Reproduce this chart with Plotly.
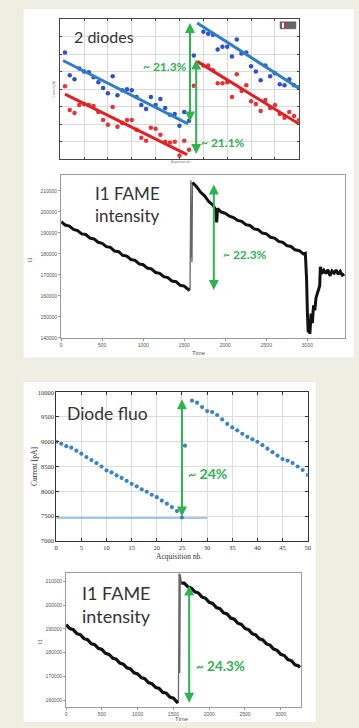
import plotly.graph_objects as go

W, H = 359, 728
def px(x): return x / W
def py(y): return 1 - y / H

GREEN = "#2db34f"
TXT = "#333333"

# ---------------- Panel 1 : 2 diodes ----------------
p1_x = list(range(1, 29)) + list(range(30, 51))
blue_y = [6.08, 4.79, 4.56, 5.18, 5.01, 4.96, 4.68, 4.39, 4.06, 3.77, 4.73, 3.66, 3.94, 4.00,
          3.94, 3.55, 3.10, 2.87, 3.55, 3.10, 3.44, 2.93, 2.54, 2.59, 1.92, 2.70, 2.20, 5.92,
          7.27, 7.15, 7.10, 6.25, 6.42, 6.42, 5.86, 6.82, 6.03, 6.08, 5.30, 5.01, 4.51, 5.35,
          4.73, 4.90, 4.28, 4.23, 4.56, 4.23, 4.11]
red_y = [4.17, 2.82, 2.65, 3.10, 3.15, 3.10, 3.04, 2.70, 2.25, 1.97, 2.99, 1.86, 2.08, 2.25,
         2.25, 1.69, 1.24, 1.07, 1.80, 1.75, 1.41, 1.01, 0.96, 1.01, 0.23, 1.07, 0.56, 4.19,
         5.35, 5.35, 5.07, 4.34, 4.34, 4.39, 3.55, 4.85, 3.89, 4.23, 3.32, 3.15, 2.76, 3.38,
         2.93, 3.10, 2.59, 2.37, 2.70, 2.48, 2.25]
blue_fit_x = [0.6, 26.8, None, 28.7, 50]
blue_fit_y = [5.63, 2.03, None, 7.77, 4.06]
red_fit_x = [1.0, 26.6, None, 28.7, 50]
red_fit_y = [3.72, 0.28, None, 5.58, 2.03]

# ---------------- Panel 2 : I1 FAME intensity ----------------
p2_t = [0, 50, 100, 150, 200, 250, 300, 350, 400, 450, 500, 550, 600, 650, 700, 750, 800, 850,
        900, 950, 1000, 1050, 1100, 1150, 1200, 1250, 1300, 1350, 1400, 1450, 1500, 1550, 1570,
        None, 1600, 1650, 1700, 1750, 1800, 1850, 1880, 1895, 1905, 1950, 2000,
        2050, 2100, 2150, 2200, 2250, 2300, 2350, 2400, 2450, 2500, 2550, 2600, 2650, 2700,
        2750, 2800, 2850, 2900, 2950, 2975, 2990, 3000, 3010, 3020, 3030, 3045, 3060, 3075,
        3090, 3105, 3120, 3135, 3150, 3158, 3175, 3200, 3225, 3250, 3275, 3300, 3325, 3350,
        3375, 3400, 3425, 3450]
p2_v = [195300, 193700, 193200, 191600, 191100, 189500, 189200, 187500, 187100, 185500, 185000,
        183400, 183100, 181300, 181000, 179300, 178900, 177300, 176900, 175200, 174800, 173200,
        172800, 171100, 170700, 169100, 168700, 167000, 166700, 165000, 164600, 162900, 163400,
        None, 214000, 212000, 209300, 207500, 204800, 203200, 201300, 195000,
        201500, 199900, 199300, 197900, 197300, 195900, 195500, 193900, 193500, 191900, 191500,
        189900, 189500, 187900, 187500, 185900, 185500, 183900, 183500, 181900, 181500, 180000,
        180300, 168000, 152000, 142500, 148000, 141800, 151500, 147000, 155500, 153000, 159000,
        161000, 163500, 164800, 173800, 170500, 172200, 170600, 172400, 169500, 171800, 170800,
        172300, 170200, 171600, 169800, 170400]
p2_jump_t = [1570, 1580, 1586, 1590, 1594, 1600]
p2_jump_v = [163400, 215000, 178000, 186000, 176000, 214000]
p2_xticks = [0, 500, 1000, 1500, 2000, 2500, 3000]
p2_yticks = [140000, 150000, 160000, 170000, 180000, 190000, 200000, 210000]

# ---------------- Panel 3 : Diode fluo ----------------
p3_x1 = list(range(0, 26))
p3_y1 = [9000, 8960, 8910, 8880, 8820, 8760, 8690, 8630, 8570, 8500, 8420, 8380, 8320, 8270,
         8210, 8150, 8100, 8040, 7990, 7930, 7880, 7810, 7750, 7680, 7600, 7470]
p3_xmid = [25.6]
p3_ymid = [8920]
p3_x2 = list(range(27, 51))
p3_y2 = [9830, 9790, 9700, 9620, 9600, 9540, 9450, 9360, 9290, 9230, 9160, 9100, 9050, 9000,
         8930, 8860, 8790, 8720, 8650, 8620, 8570, 8500, 8430, 8330]
p3_hline_x = [0, 30]
p3_hline_y = [7460, 7460]

# ---------------- Panel 4 : I1 FAME intensity ----------------
p4_t = [0, 50, 100, 150, 200, 250, 300, 350, 400, 450, 500, 550, 600, 650, 700, 750, 800, 850,
        900, 950, 1000, 1050, 1100, 1150, 1200, 1250, 1300, 1350, 1400, 1450, 1500, 1550, 1570,
        None, 1610, 1650, 1700, 1750, 1800, 1850, 1900, 1950, 2000, 2050, 2100,
        2150, 2200, 2250, 2300, 2350, 2400, 2450, 2500, 2550, 2600, 2650, 2700, 2750, 2800,
        2850, 2900, 2950, 3000, 3050, 3100, 3150, 3200, 3250, 3270]
p4_v = [191800, 190200, 189700, 188000, 187600, 185900, 185500, 183800, 183400, 181800, 181400,
        179700, 179300, 177700, 177300, 175600, 175200, 173600, 173200, 171500, 171100, 169500,
        169100, 167400, 167000, 165400, 165000, 163300, 163000, 161300, 160900, 159200, 159500,
        None, 209300, 209300, 207800, 207200, 205600, 205100, 203400, 202900,
        201200, 200700, 199000, 198500, 196800, 196300, 194600, 194100, 192400, 191900, 190200,
        189700, 188000, 187500, 185800, 185400, 183700, 183200, 181500, 181000, 179300, 178800,
        177100, 176600, 174900, 174400, 173800]
p4_jump_t = [1570, 1580, 1588, 1596, 1610]
p4_jump_v = [159500, 216500, 171500, 213000, 209300]
p4_xticks = [0, 500, 1000, 1500, 2000, 2500, 3000]
p4_yticks = [160000, 170000, 180000, 190000, 200000, 210000]

fig = go.Figure()

# Panel 1 traces
fig.add_trace(go.Scatter(x=p1_x, y=blue_y, mode="markers", xaxis="x", yaxis="y",
                         marker=dict(color="#2f4fd6", size=4.5)))
fig.add_trace(go.Scatter(x=p1_x, y=red_y, mode="markers", xaxis="x", yaxis="y",
                         marker=dict(color="#e8323a", size=4.5)))
fig.add_trace(go.Scatter(x=blue_fit_x, y=blue_fit_y, mode="lines", xaxis="x", yaxis="y",
                         line=dict(color="#2f7fc6", width=3)))
fig.add_trace(go.Scatter(x=red_fit_x, y=red_fit_y, mode="lines", xaxis="x", yaxis="y",
                         line=dict(color="#e32020", width=3)))

# Panel 2
fig.add_trace(go.Scatter(x=p2_jump_t, y=p2_jump_v, mode="lines", xaxis="x2", yaxis="y2",
                         line=dict(color="#666666", width=1.3)))
fig.add_trace(go.Scatter(x=p2_t, y=p2_v, mode="lines", xaxis="x2", yaxis="y2",
                         line=dict(color="#111111", width=3), connectgaps=False))

# Panel 3
fig.add_trace(go.Scatter(x=p3_hline_x, y=p3_hline_y, mode="lines", xaxis="x3", yaxis="y3",
                         line=dict(color="#4a8fc9", width=1)))
fig.add_trace(go.Scatter(x=p3_x1 + p3_xmid + p3_x2, y=p3_y1 + p3_ymid + p3_y2, mode="markers",
                         xaxis="x3", yaxis="y3", marker=dict(color="#3a84c6", size=4.2)))

# Panel 4
fig.add_trace(go.Scatter(x=p4_jump_t, y=p4_jump_v, mode="lines", xaxis="x4", yaxis="y4",
                         line=dict(color="#666666", width=1.3), cliponaxis=False))
fig.add_trace(go.Scatter(x=p4_t, y=p4_v, mode="lines", xaxis="x4", yaxis="y4",
                         line=dict(color="#111111", width=3.2), connectgaps=False))

tick_small = dict(family="Liberation Sans", size=5, color="#555555")
serif_small = dict(family="Liberation Serif", size=6.5, color="#333333")

layout = dict(
    width=W, height=H, margin=dict(l=0, r=0, t=0, b=0),
    paper_bgcolor="#efeee2", plot_bgcolor="white", showlegend=False,
    # panel 1
    xaxis=dict(domain=[px(59), px(301)], range=[0, 50], dtick=5, showgrid=True,
               gridcolor="#d9d9d9", gridwidth=1, zeroline=False, showline=True, mirror="ticks",
               linecolor="#444444", linewidth=1, ticks="inside", ticklen=2, tickcolor="#444",
               showticklabels=False, anchor="y"),
    yaxis=dict(domain=[py(157), py(15)], range=[0, 8], dtick=1, showgrid=True,
               gridcolor="#d9d9d9", gridwidth=1, zeroline=False, showline=True, mirror="ticks",
               linecolor="#444444", linewidth=1, ticks="inside", ticklen=2, tickcolor="#444",
               showticklabels=False, anchor="x"),
    # panel 2
    xaxis2=dict(domain=[px(60), px(348)], range=[0, 3460], tickvals=p2_xticks, showgrid=False,
                zeroline=False, showline=True, mirror=True, linecolor="#9a9a9a", linewidth=1,
                ticks="outside", ticklen=2, tickcolor="#999", tickfont=tick_small, anchor="y2"),
    yaxis2=dict(domain=[py(337), py(173)], range=[140000, 217400], tickvals=p2_yticks,
                tickformat="d", showgrid=False, zeroline=False, showline=True, mirror=True,
                linecolor="#9a9a9a", linewidth=1, ticks="outside", ticklen=2, tickcolor="#999",
                tickfont=tick_small, anchor="x2"),
    # panel 3
    xaxis3=dict(domain=[px(55), px(310)], range=[0, 50], dtick=5, showgrid=True,
                gridcolor="#dcdcdc", zeroline=False, showline=True, mirror="ticks",
                linecolor="#333333", linewidth=1, ticks="inside", ticklen=3, tickcolor="#333",
                tickfont=serif_small, anchor="y3"),
    yaxis3=dict(domain=[py(542), py(392)], range=[7000, 10000], dtick=500, tickformat="d",
                showgrid=True, gridcolor="#dcdcdc", zeroline=False, showline=True,
                mirror="ticks", linecolor="#333333", linewidth=1, ticks="inside", ticklen=3,
                tickcolor="#333", tickfont=serif_small, anchor="x3"),
    # panel 4
    xaxis4=dict(domain=[px(65), px(303)], range=[0, 3280], tickvals=p4_xticks, showgrid=False,
                zeroline=False, showline=True, mirror=True, linecolor="#9a9a9a", linewidth=1,
                ticks="outside", ticklen=2, tickcolor="#999", tickfont=tick_small, anchor="y4"),
    yaxis4=dict(domain=[py(710), py(575)], range=[157083, 213333], tickvals=p4_yticks,
                tickformat="d", showgrid=False, zeroline=False, showline=True, mirror=True,
                linecolor="#9a9a9a", linewidth=1, ticks="outside", ticklen=2, tickcolor="#999",
                tickfont=tick_small, anchor="x4"),
)

shapes = [
    dict(type="rect", xref="paper", yref="paper", x0=px(22), x1=px(357), y0=py(357), y1=py(5),
         fillcolor="white", line=dict(width=0), layer="below"),
    dict(type="rect", xref="paper", yref="paper", x0=px(22), x1=px(318), y0=py(725), y1=py(382),
         fillcolor="white", line=dict(width=0), layer="below"),
    # tiny legend box of panel 1
    dict(type="rect", xref="paper", yref="paper", x0=px(282), x1=px(298), y0=py(25), y1=py(18),
         fillcolor="#666666", line=dict(color="#444", width=0.5)),
    dict(type="rect", xref="paper", yref="paper", x0=px(284), x1=px(286), y0=py(24), y1=py(19),
         fillcolor="#ffffff", line=dict(width=0)),
    dict(type="rect", xref="paper", yref="paper", x0=px(286), x1=px(288), y0=py(24), y1=py(19),
         fillcolor="#d03030", line=dict(width=0)),
]

def arrow(xa, ya, x, y0, y1):
    return dict(x=x, y=y1, ax=x, ay=y0, xref=xa, yref=ya, axref=xa, ayref=ya, text="",
                showarrow=True, arrowhead=2, arrowside="end+start", arrowsize=1,
                arrowwidth=2, arrowcolor=GREEN)

def label(xa, ya, x, y, text, size, color=GREEN, bold=True, family="Lato"):
    t = "<b>%s</b>" % text if bold else text
    return dict(x=x, y=y, xref=xa, yref=ya, text=t, showarrow=False, xanchor="left",
                yanchor="middle", align="left", font=dict(family=family, size=size, color=color))

def ptext(x, y, text, size, color="#444", family="Liberation Sans", angle=0):
    return dict(x=px(x), y=py(y), xref="paper", yref="paper", text=text, showarrow=False,
                xanchor="center", yanchor="middle", textangle=angle,
                font=dict(family=family, size=size, color=color))

annotations = [
    # panel 1
    arrow("x", "y", 27.2, 2.08, 7.77),
    arrow("x", "y", 28.5, 0.23, 5.69),
    label("x", "y", 17.0, 5.30, "~ 21.3%", 12),
    label("x", "y", 29.0, 0.96, "~ 21.1%", 12),
    label("x", "y", 2.4, 7.0, "2 diodes", 16, color=TXT, bold=False),
    ptext(182, 160, "Acquisition nb.", 3, "#777"),
    ptext(53, 86, "Current [pA]", 3, "#777", angle=-90),
    # panel 2
    arrow("x2", "y2", 1860, 162000, 213000),
    label("x2", "y2", 1950, 179500, "~ 22.3%", 12),
    label("x2", "y2", 390, 203500, "I1 FAME<br>intensity", 17, color=TXT, bold=False),
    ptext(28, 258, "I1", 6, "#555", angle=-90),
    ptext(200, 352, "Time", 6, "#555"),
    # panel 3
    arrow("x3", "y3", 25, 7460, 9860),
    label("x3", "y3", 25.9, 8360, "~ 24%", 14),
    label("x3", "y3", 1.8, 9580, "Diode fluo", 17.5, color=TXT, bold=False),
    ptext(33, 467, "Current [pA]", 7.5, "#333", family="Liberation Serif", angle=-90),
    ptext(180, 558, "Acquisition nb.", 7.5, "#333", family="Liberation Serif"),
    # panel 4
    arrow("x4", "y4", 1720, 158300, 208300),
    label("x4", "y4", 1790, 174600, "~ 24.3%", 13.5),
    label("x4", "y4", 200, 200400, "I1 FAME<br>intensity", 18, color=TXT, bold=False),
    ptext(38, 643, "I1", 6, "#555", angle=-90),
    ptext(183, 722, "Time", 6, "#555"),
]

fig.update_layout(**layout, shapes=shapes, annotations=annotations)
fig.write_html("out.html")
